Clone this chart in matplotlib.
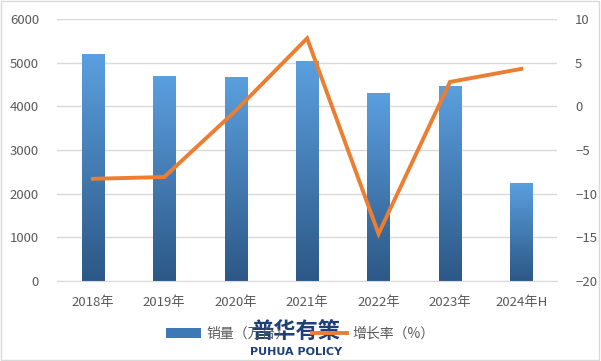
import numpy as np
import matplotlib.pyplot as plt
from matplotlib.patches import Rectangle
from matplotlib.lines import Line2D
from matplotlib.colors import LinearSegmentedColormap

plt.rcParams['font.family'] = ['Noto Sans CJK SC', 'DejaVu Sans']

years = ['2018年', '2019年', '2020年', '2021年', '2022年', '2023年', '2024年H']
sales = [5200, 4700, 4670, 5040, 4300, 4470, 2245]
growth = [-8.3, -8.1, -0.5, 7.8, -14.6, 2.8, 4.3]

fig = plt.figure(figsize=(6.01, 3.61), dpi=100)
fig.patch.set_facecolor('white')
fig.add_artist(Rectangle((0.002, 0.003), 0.995, 0.993, transform=fig.transFigure,
                         fill=False, edgecolor='#d9d9d9', linewidth=1))

ax = fig.add_axes([0.095, 0.222, 0.832, 0.725])
x = np.arange(len(years))
bars = ax.bar(x, sales, width=0.31, color='none', edgecolor='none', zorder=2)

# 渐变填充：顶部浅蓝，底部深蓝
grad = np.linspace(1, 0, 256).reshape(-1, 1)
cmap = LinearSegmentedColormap.from_list('b', ['#2c5886', '#5b9fdf'])
for b in bars:
    x0, y0, w, h = b.get_x(), b.get_y(), b.get_width(), b.get_height()
    im = ax.imshow(grad, cmap=cmap, aspect='auto', extent=[x0, x0 + w, y0, y0 + h],
                   zorder=2, interpolation='bicubic')
    im.set_clip_path(b)

ax.set_xlim(-0.5, len(years) - 0.5)
ax.set_ylim(0, 6000)
ax.set_yticks(range(0, 6001, 1000))
ax.set_xticks(x)
ax.set_xticklabels(years)
ax.grid(axis='y', color='#d9d9d9', linewidth=1, zorder=0)
ax.set_axisbelow(True)
for s in ['top', 'right', 'left']:
    ax.spines[s].set_visible(False)
ax.spines['bottom'].set_color('#d9d9d9')
ax.tick_params(axis='both', length=0, labelsize=9.5, colors='#595959', pad=11)
ax.tick_params(axis='y', pad=13)

ax2 = ax.twinx()
ax2.plot(x, growth, color='#ed7d31', linewidth=2.8, zorder=3, solid_joinstyle='miter')
ax2.set_ylim(-20, 10)
ax2.set_yticks(range(-20, 11, 5))
for s in ax2.spines.values():
    s.set_visible(False)
ax2.tick_params(axis='y', length=0, labelsize=9.5, colors='#595959', pad=13)

handles = [Rectangle((0, 0), 1, 1, facecolor='#3e78b5'),
           Line2D([0], [0], color='#ed7d31', linewidth=2.8)]
fig.legend(handles, ['销量（万台）', '增长率（%）'], loc='center', bbox_to_anchor=(0.5, 0.075),
           ncol=2, frameon=False, fontsize=10, labelcolor='#595959', handlelength=2.5,
           handletextpad=0.4, columnspacing=1.6)

# 水印
fig.text(0.492, 0.05, '普华有策', fontsize=16, fontweight='bold', color='#1f3f78',
         ha='center', va='bottom')
fig.text(0.492, 0.012, 'PUHUA POLICY', fontsize=8, fontweight='bold', color='#1f3f78',
         ha='center', va='bottom', family='DejaVu Sans')

fig.savefig('out.png', dpi=100)
